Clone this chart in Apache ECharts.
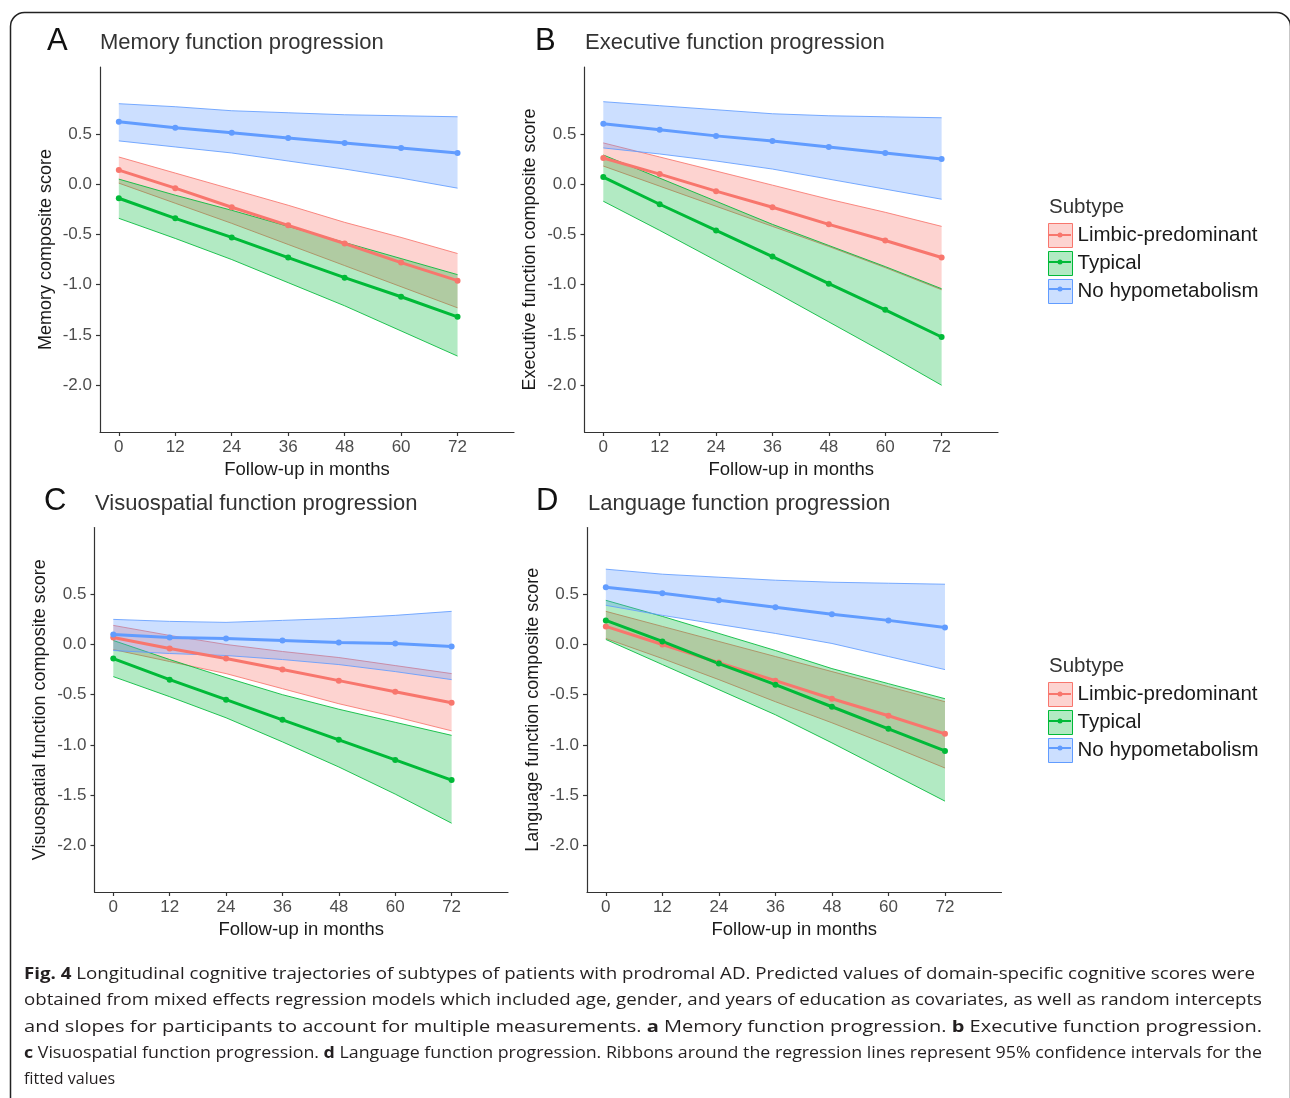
<!DOCTYPE html>
<html><head><meta charset="utf-8">
<script src="https://cdn.jsdelivr.net/npm/echarts@6/dist/echarts.min.js"></script>
<style>html,body{margin:0;padding:0;background:#fff}#chart{width:1290px;height:1098px}</style>
</head><body><div id="chart"></div>
<script>
// ---------- data ----------
const months = [0, 12, 24, 36, 48, 60, 72];
const xTickValues = [0, 12, 24, 36, 48, 60, 72];
const yTickValues = [0.5, 0.0, -0.5, -1.0, -1.5, -2.0];
const subtypes = ['Limbic-predominant', 'Typical', 'No hypometabolism'];
const panelLetters = ['A', 'B', 'C', 'D'];
const panelTitles = ['Memory function progression', 'Executive function progression',
  'Visuospatial function progression', 'Language function progression'];
const yAxisTitles = ['Memory composite score', 'Executive function composite score',
  'Visuospatial function composite score', 'Language function composite score'];
const xAxisTitle = 'Follow-up in months';
const legendTitle = 'Subtype';

// A: memory
const memLimbicFit  = [0.14, -0.04, -0.23, -0.41, -0.59, -0.78, -0.96];
const memLimbicLow  = [0.01, -0.19, -0.39, -0.60, -0.81, -1.02, -1.23];
const memLimbicUp   = [0.27, 0.11, -0.05, -0.21, -0.38, -0.53, -0.69];
const memTypicalFit = [-0.14, -0.34, -0.53, -0.73, -0.93, -1.12, -1.32];
const memTypicalLow = [-0.34, -0.54, -0.75, -0.98, -1.21, -1.46, -1.71];
const memTypicalUp  = [0.05, -0.11, -0.26, -0.42, -0.58, -0.74, -0.90];
const memNoHypoFit  = [0.62, 0.56, 0.51, 0.46, 0.41, 0.36, 0.31];
const memNoHypoLow  = [0.43, 0.37, 0.31, 0.23, 0.15, 0.06, -0.04];
const memNoHypoUp   = [0.80, 0.77, 0.73, 0.71, 0.69, 0.68, 0.67];

// B: executive
const exeLimbicFit  = [0.26, 0.10, -0.07, -0.23, -0.40, -0.56, -0.73];
const exeLimbicLow  = [0.18, -0.02, -0.22, -0.42, -0.62, -0.83, -1.05];
const exeLimbicUp   = [0.41, 0.27, 0.13, -0.01, -0.15, -0.28, -0.42];
const exeTypicalFit = [0.07, -0.20, -0.46, -0.72, -0.99, -1.25, -1.52];
const exeTypicalLow = [-0.17, -0.46, -0.76, -1.06, -1.37, -1.68, -2.00];
const exeTypicalUp  = [0.29, 0.06, -0.17, -0.40, -0.61, -0.82, -1.04];
const exeNoHypoFit  = [0.60, 0.54, 0.48, 0.43, 0.37, 0.31, 0.25];
const exeNoHypoLow  = [0.36, 0.30, 0.23, 0.15, 0.05, -0.05, -0.15];
const exeNoHypoUp   = [0.82, 0.78, 0.74, 0.70, 0.68, 0.67, 0.66];

// C: visuospatial
const visLimbicFit  = [0.07, -0.04, -0.14, -0.25, -0.36, -0.47, -0.58];
const visLimbicLow  = [-0.05, -0.17, -0.29, -0.44, -0.59, -0.72, -0.86];
const visLimbicUp   = [0.19, 0.09, 0.00, -0.07, -0.13, -0.21, -0.29];
const visTypicalFit = [-0.14, -0.35, -0.55, -0.75, -0.95, -1.15, -1.35];
const visTypicalLow = [-0.32, -0.52, -0.73, -0.97, -1.22, -1.49, -1.78];
const visTypicalUp  = [0.04, -0.15, -0.33, -0.50, -0.645, -0.775, -0.905];
const visNoHypoFit  = [0.10, 0.07, 0.06, 0.04, 0.02, 0.01, -0.02];
const visNoHypoLow  = [-0.06, -0.09, -0.11, -0.15, -0.20, -0.27, -0.35];
const visNoHypoUp   = [0.25, 0.23, 0.22, 0.24, 0.26, 0.29, 0.33];

// D: language
const lanLimbicFit  = [0.18, 0.00, -0.18, -0.36, -0.54, -0.71, -0.89];
const lanLimbicLow  = [0.06, -0.14, -0.35, -0.57, -0.78, -1.00, -1.23];
const lanLimbicUp   = [0.33, 0.18, 0.03, -0.12, -0.27, -0.42, -0.57];
const lanTypicalFit = [0.24, 0.03, -0.19, -0.40, -0.62, -0.84, -1.06];
const lanTypicalLow = [0.05, -0.20, -0.45, -0.70, -0.98, -1.27, -1.56];
const lanTypicalUp  = [0.44, 0.28, 0.11, -0.06, -0.24, -0.39, -0.54];
const lanNoHypoFit  = [0.57, 0.51, 0.44, 0.37, 0.30, 0.24, 0.17];
const lanNoHypoLow  = [0.39, 0.29, 0.20, 0.11, 0.01, -0.12, -0.25];
const lanNoHypoUp   = [0.75, 0.70, 0.67, 0.64, 0.62, 0.61, 0.60];

const captionLines = [
  '{b|Fig. 4} Longitudinal cognitive trajectories of subtypes of patients with prodromal AD. Predicted values of domain-specific cognitive scores were',
  'obtained from mixed effects regression models which included age, gender, and years of education as covariates, as well as random intercepts',
  'and slopes for participants to account for multiple measurements. {b|a} Memory function progression. {b|b} Executive function progression.',
  '{b|c} Visuospatial function progression. {b|d} Language function progression. Ribbons around the regression lines represent 95% confidence intervals for the',
  'fitted values'
];

// ---------- layout / style ----------
const FONT = '"Liberation Sans", Arial, sans-serif';
const CAPFONT = '"Open Sans", "Noto Sans", sans-serif';
const lineColors = ['#F8766D', '#00BA38', '#619CFF'];
const fillColors = ['rgba(248,118,109,0.32)', 'rgba(0,186,56,0.30)', 'rgba(97,156,255,0.32)'];

const panelData = [
  [[memLimbicFit, memLimbicLow, memLimbicUp], [memTypicalFit, memTypicalLow, memTypicalUp], [memNoHypoFit, memNoHypoLow, memNoHypoUp]],
  [[exeLimbicFit, exeLimbicLow, exeLimbicUp], [exeTypicalFit, exeTypicalLow, exeTypicalUp], [exeNoHypoFit, exeNoHypoLow, exeNoHypoUp]],
  [[visLimbicFit, visLimbicLow, visLimbicUp], [visTypicalFit, visTypicalLow, visTypicalUp], [visNoHypoFit, visNoHypoLow, visNoHypoUp]],
  [[lanLimbicFit, lanLimbicLow, lanLimbicUp], [lanTypicalFit, lanTypicalLow, lanTypicalUp], [lanNoHypoFit, lanNoHypoLow, lanNoHypoUp]]
];

const grids = [
  {left: 100, top: 67, width: 414, height: 365},
  {left: 584.5, top: 67, width: 413.5, height: 365},
  {left: 94.5, top: 527.5, width: 413.5, height: 364.5},
  {left: 587, top: 527.5, width: 414.5, height: 364.5}
];
const letterPos = [[47, 26], [535, 26], [44, 486], [536, 486]];
const titlePos = [[100, 32], [585, 32], [95, 493], [588, 493]];

const chart = echarts.init(document.getElementById('chart'), null, {renderer: 'canvas'});

const xAxes = [], yAxes = [], series = [], titles = [];
grids.forEach((g, pi) => {
  xAxes.push({
    type: 'value', gridIndex: pi, min: -4, max: 84,
    name: xAxisTitle, nameLocation: 'middle', nameGap: 28,
    nameTextStyle: {fontFamily: FONT, fontSize: 18.5, color: '#1a1a1a'},
    axisLine: {show: true, onZero: false, lineStyle: {color: '#333', width: 1.2}},
    axisTick: {show: true, length: 4, lineStyle: {color: '#333', width: 1.2}, customValues: xTickValues},
    axisLabel: {customValues: xTickValues, margin: 7, fontFamily: FONT, fontSize: 17, color: '#4d4d4d'},
    splitLine: {show: false}
  });
  yAxes.push({
    type: 'value', gridIndex: pi, min: -2.465, max: 1.165,
    name: yAxisTitles[pi], nameLocation: 'middle', nameGap: 45,
    nameTextStyle: {fontFamily: FONT, fontSize: 18, color: '#1a1a1a'},
    axisLine: {show: true, onZero: false, lineStyle: {color: '#333', width: 1.2}},
    axisTick: {show: true, length: 4, lineStyle: {color: '#333', width: 1.2}, customValues: yTickValues},
    axisLabel: {customValues: yTickValues, margin: 8, fontFamily: FONT, fontSize: 17, color: '#4d4d4d',
      formatter: v => Number(v).toFixed(1)},
    splitLine: {show: false}
  });
  titles.push({text: panelLetters[pi], left: letterPos[pi][0], top: letterPos[pi][1], padding: 0,
    textStyle: {fontFamily: FONT, fontSize: 31, fontWeight: 'normal', color: '#111'}});
  titles.push({text: panelTitles[pi], left: titlePos[pi][0], top: titlePos[pi][1], padding: 0,
    textStyle: {fontFamily: FONT, fontSize: 22, fontWeight: 'normal', color: '#333'}});

  panelData[pi].forEach((grp, gi) => {
    const fit = grp[0], low = grp[1], up = grp[2];
    series.push({
      type: 'custom', name: subtypes[gi], xAxisIndex: pi, yAxisIndex: pi, silent: true,
      data: months.map((m, i) => [m, low[i], up[i]]),
      encode: {x: 0, y: [1, 2]},
      renderItem: function (params, api) {
        if (params.dataIndex !== 0) return null;
        const top = months.map((m, i) => api.coord([m, up[i]]));
        const bot = months.map((m, i) => api.coord([m, low[i]]));
        return {
          type: 'group', children: [
            {type: 'polygon', shape: {points: top.concat(bot.slice().reverse())},
              style: {fill: fillColors[gi], stroke: null}},
            {type: 'polyline', shape: {points: top}, style: {stroke: lineColors[gi], lineWidth: 1, fill: null, opacity: 0.85}},
            {type: 'polyline', shape: {points: bot}, style: {stroke: lineColors[gi], lineWidth: 1, fill: null, opacity: 0.85}}
          ]
        };
      }
    });
    series.push({
      type: 'line', name: subtypes[gi], xAxisIndex: pi, yAxisIndex: pi,
      data: months.map((m, i) => [m, fit[i]]),
      symbol: 'circle', symbolSize: 6, showSymbol: true,
      lineStyle: {color: lineColors[gi], width: 3},
      itemStyle: {color: lineColors[gi]},
      emphasis: {disabled: true}
    });
  });
});

const legendTops = [223, 682];
const legends = legendTops.map(t => ({
  left: 1048, top: t, orient: 'vertical', padding: 0, itemGap: 3,
  itemWidth: 24, itemHeight: 24, icon: 'rect',
  textStyle: {fontFamily: FONT, fontSize: 20.5, color: '#1a1a1a'},
  selectedMode: false,
  data: subtypes.map((s, gi) => ({name: s, itemStyle: {color: fillColors[gi], borderColor: lineColors[gi], borderWidth: 1}}))
}));

// graphic: frame, legend titles, legend key marks, caption
const graphics = [];
graphics.push({type: 'rect', shape: {x: 10.5, y: 12.5, width: 1280, height: 1200, r: 14},
  style: {fill: null, stroke: '#222', lineWidth: 1.5}, silent: true, z: 0});
legendTops.forEach(t => {
  graphics.push({type: 'text', x: 1049, y: t - 16, style: {text: legendTitle, font: '20.5px ' + FONT, fill: '#333',
    verticalAlign: 'middle'}, z: 100});
  subtypes.forEach((s, gi) => {
    const cy = t + 12 + gi * 27;
    graphics.push({type: 'line', shape: {x1: 1049, y1: cy, x2: 1071, y2: cy},
      style: {stroke: lineColors[gi], lineWidth: 2}, z: 100, silent: true});
    graphics.push({type: 'circle', shape: {cx: 1060, cy: cy, r: 2.5},
      style: {fill: lineColors[gi]}, z: 100, silent: true});
  });
});

// caption lines, stretched to justified width
const capCtx = document.createElement('canvas').getContext('2d');
const capSize = 16;
function measureRich(str) {
  let w = 0;
  const re = /\{b\|([^}]*)\}/g;
  let last = 0, m;
  while ((m = re.exec(str)) !== null) {
    capCtx.font = capSize + 'px ' + CAPFONT;
    w += capCtx.measureText(str.slice(last, m.index)).width;
    capCtx.font = 'bold ' + capSize + 'px ' + CAPFONT;
    w += capCtx.measureText(m[1]).width;
    last = re.lastIndex;
  }
  capCtx.font = capSize + 'px ' + CAPFONT;
  w += capCtx.measureText(str.slice(last)).width;
  return w;
}
const capTargets = [1231, 1238, 1238, 1238, null];
const capY = [974, 1000, 1027, 1053, 1079];
captionLines.forEach((ln, i) => {
  const w = measureRich(ln);
  const sx = capTargets[i] ? capTargets[i] / w : 1;
  graphics.push({type: 'text', x: 24, y: capY[i], scaleX: sx, originX: 0,
    style: {text: ln, font: capSize + 'px ' + CAPFONT, fill: '#231f20', verticalAlign: 'middle',
      rich: {b: {fontWeight: 'bold', fontSize: capSize, fontFamily: CAPFONT, fill: '#231f20'}}},
    z: 100, silent: true});
});

chart.setOption({
  animation: false,
  backgroundColor: '#ffffff',
  title: titles,
  grid: grids,
  xAxis: xAxes,
  yAxis: yAxes,
  legend: legends,
  series: series,
  graphic: graphics
});
</script></body></html>
